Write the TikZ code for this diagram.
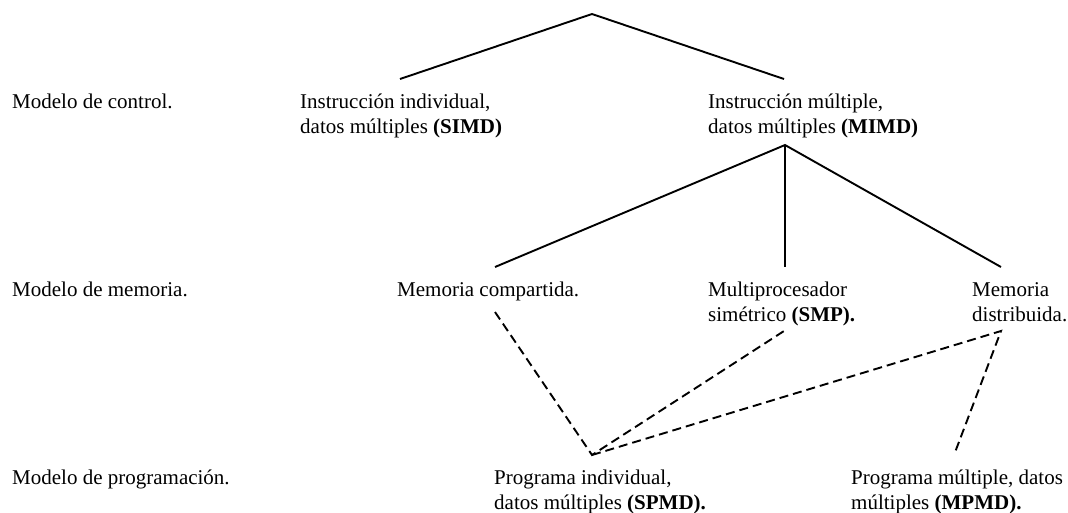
\documentclass[tikz,border=0pt]{standalone}
\usepackage{fontspec}
\setmainfont{Liberation Serif}
\newcommand{\twolines}[2]{\vtop{\baselineskip=25pt\hbox{#1}\hbox{#2}}}
\begin{document}
\begin{tikzpicture}[x=1pt,y=-1pt,
  lbl/.style={anchor=base west,inner sep=0pt,font=\fontsize{21}{25}\selectfont},
  solidline/.style={line width=1.9pt},
  dashline/.style={line width=1.9pt,dash pattern=on 9pt off 5pt}]
\useasboundingbox (0,0) rectangle (1068,512);
% row labels
\node[lbl] (lc) at (12,108) {Modelo de control.};
\node[lbl] (lm) at (12,296) {Modelo de memoria.};
\node[lbl] (lp) at (12,484) {Modelo de programación.};
% nodes
\node[lbl] (simd) at (300,108) {\twolines{Instrucción individual,}{datos múltiples \textbf{(SIMD)}}};
\node[lbl] (mimd) at (708,108) {\twolines{Instrucción múltiple,}{datos múltiples \textbf{(MIMD)}}};
\node[lbl] (mc) at (397,296) {Memoria compartida.};
\node[lbl] (smp) at (708,296) {\twolines{Multiprocesador}{simétrico \textbf{(SMP).}}};
\node[lbl] (md) at (972,296) {\twolines{Memoria}{distribuida.}};
\node[lbl] (spmd) at (494,484) {\twolines{Programa individual,}{datos múltiples \textbf{(SPMD).}}};
\node[lbl] (mpmd) at (851,484) {\twolines{Programa múltiple, datos}{múltiples \textbf{(MPMD).}}};
% connector ends
\coordinate (root) at (592,14);
\coordinate (simdT) at (400,79);
\coordinate (mimdT) at (784,79);
\coordinate (mimdB) at (785,145);
\coordinate (mcT) at (495,267);
\coordinate (smpT) at (785,267);
\coordinate (mdT) at (1001,267);
\coordinate (mcB) at (495,312);
\coordinate (smpB) at (784,331);
\coordinate (mdB) at (1001,331);
\coordinate (spmdT) at (592,455);
\coordinate (mpmdT) at (954,455);
% connectors
\draw[solidline] (simdT) -- (root) -- (mimdT);
\draw[solidline] (mcT) -- (mimdB) -- (mdT);
\draw[solidline] (mimdB) -- (smpT);
\draw[dashline] (mcB) -- (spmdT) -- (smpB);
\draw[dashline] (spmdT) -- (mdB) -- (mpmdT);
\end{tikzpicture}
\end{document}
